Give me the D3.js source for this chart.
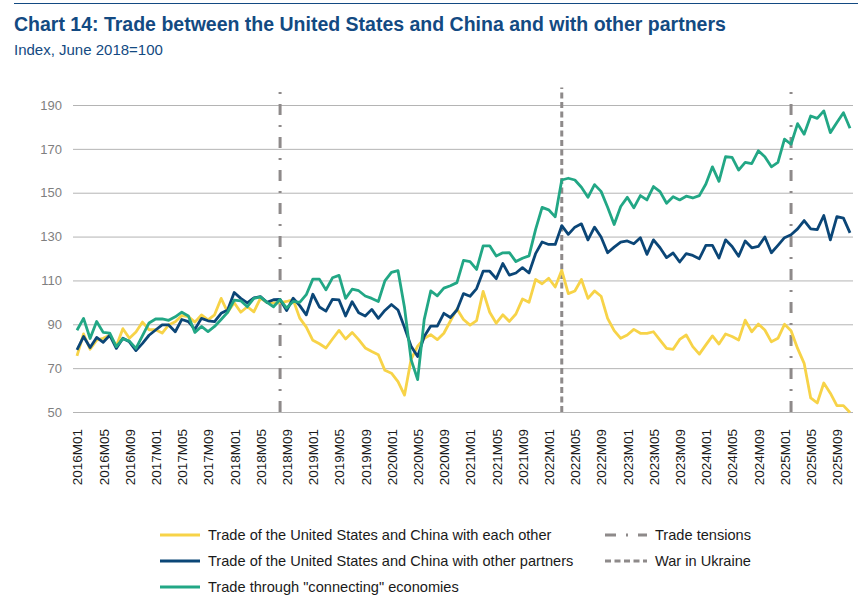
<!DOCTYPE html>
<html>
<head>
<meta charset="utf-8">
<script src="https://cdn.jsdelivr.net/npm/d3@7/dist/d3.min.js"></script>
<style>
  body { margin: 0; background: #fff; }
  svg { font-family: "Liberation Sans", Arial, sans-serif; }
</style>
</head>
<body>
<svg id="chart" width="858" height="612"></svg>
<script>
// monthly categories, 2016M01 .. 2025M11
var years = [2016, 2017, 2018, 2019, 2020, 2021, 2022, 2023, 2024, 2025];
var months = [];
years.forEach(function (yr) {
  for (var m = 1; m <= 12; m++) months.push(yr + "M" + (m < 10 ? "0" : "") + m);
});
months = months.slice(0, 119);

var xTickLabels = months.filter(function (d, i) { return i % 4 === 0; });
var yTickValues = [50, 70, 90, 110, 130, 150, 170, 190];

var usChinaEachOther = [
  75.6, 85.6, 78.6, 82.8, 83.6, 85, 80, 88, 83.6, 86.5, 91, 87.5,
  87.5, 86, 89.7, 91.2, 94, 93.5, 91, 94.3, 92, 94.3, 101.8, 95.5,
  99.8, 95.5, 98, 95.7, 101.8, 100, 99.8, 99.8, 100.4, 101.2, 92.8, 88.7,
  82.7, 81.1, 79.2, 83.3, 87.2, 83.3, 86.3, 83, 79.2, 77.6, 76.1, 69,
  67.7, 63.9, 57.7, 74, 80, 83.5, 85.3, 83, 85.9, 91.5, 97, 92.2,
  89.6, 91.7, 105, 95.5, 90.5, 94.3, 91.3, 94.7, 101.5, 100, 110.4, 108.5,
  111, 107, 114.6, 104, 105.2, 110.4, 101.8, 105.2, 102.8, 92.7, 87.1, 83.6,
  85.1, 87.7, 85.9, 85.9, 86.6, 82.8, 79, 78.6, 83.1, 85.1, 79.8, 76.4,
  80.6, 84.7, 81, 85.6, 84.4, 82.8, 91.9, 86.6, 90.1, 87.4, 82, 83.6,
  90, 87.1, 79, 72.2, 56.4, 54.1, 63.2, 58.6, 52.9, 52.9, 49.8
];

var usChinaOtherPartners = [
  78.3, 84.4, 79.4, 84, 81.8, 85, 79, 83.6, 82, 78, 81.3, 85,
  87.4, 89.7, 89.7, 86.6, 92.2, 91.2, 87.7, 92.7, 91.6, 91.2, 95, 96.5,
  104.5, 101.8, 99.8, 102, 102.6, 100, 101.2, 101.3, 96.3, 101.9, 98.5, 94.3,
  103.7, 97.9, 96, 101.4, 101.1, 93.8, 100.3, 95.3, 93.8, 96.8, 92.7, 96.3,
  99, 96.5, 88.5, 80, 75.3, 84.4, 89.2, 89.2, 95, 93.1, 96.5, 104,
  102.8, 106.3, 114.2, 114.2, 110.8, 117.7, 112.4, 113.4, 115.8, 113.4, 122.2, 127.5,
  126.4, 126.4, 135, 131, 134.3, 135.8, 128.5, 134.3, 129.8, 122.6, 125.2, 127.5,
  128, 126.7, 129.5, 121.9, 128.5, 124.9, 120.4, 122.5, 118.4, 122.2, 121.4, 119.9,
  126, 126, 120.2, 128.5, 125.5, 121, 128, 124.9, 125.5, 129.8, 122.6, 126,
  129.5, 130.8, 133.5, 137.3, 133.5, 133.2, 139.6, 128.5, 139.1, 138.4, 131.7
];

var connectingEconomies = [
  87.3, 92.7, 83.5, 91.3, 86.3, 86, 79.8, 83.4, 82.3, 79, 84.8, 90.6,
  92.4, 92.5, 91.8, 93.4, 95.5, 93.8, 86.3, 89, 86.7, 89, 92.2, 95.5,
  101, 100.7, 98, 101.8, 102.5, 100, 98, 101.3, 97.4, 100.4, 100, 103.5,
  110.6, 110.6, 105.7, 111.2, 112.3, 101.8, 106, 105.3, 102.9, 101.8, 100.4, 109.8,
  113.7, 114.5, 97.5, 73.9, 64.8, 92.1, 105.2, 103, 106.5, 107.6, 109, 119.1,
  118.6, 115, 125.8, 125.8, 121.1, 122.6, 122.7, 118.6, 120.1, 121.2, 133.2, 143.3,
  142.2, 139, 155.8, 156.6, 155.8, 152.5, 147.9, 153.7, 150.6, 143.4, 135.5, 143.7,
  147.9, 143.1, 148.7, 146.7, 152.8, 150.5, 145.2, 148.2, 146.7, 148.4, 147.6, 148.7,
  154, 161.8, 155.2, 166.4, 166.1, 160.3, 163.8, 163.3, 169.1, 166.4, 161.8, 163.8,
  174.4, 172.1, 181.5, 176.7, 185, 183.9, 187.3, 177.4, 182, 186.5, 179.4
];

var seriesNames = [
  "Trade of the United States and China with each other",
  "Trade of the United States and China with other partners",
  "Trade through \"connecting\" economies"
];
var seriesValues = [usChinaEachOther, usChinaOtherPartners, connectingEconomies];
var seriesColors = ["#f7d348", "#0b4677", "#22a785"];

var eventDates = ["2018M08", "2022M03", "2025M02"];
var eventKinds = ["tensions", "war", "tensions"];
var eventNames = { tensions: "Trade tensions", war: "War in Ukraine" };
var eventDash = { tensions: "11,10,2,10", war: "6,3.5" };

var svg = d3.select("#chart");
var navy = "#134a82";

var x = d3.scalePoint().domain(months).range([77, 850]);
var y = d3.scaleLinear().domain([50, 190]).range([412, 105]);

// top rule, title, subtitle
svg.append("line")
  .attr("x1", 14).attr("x2", 858).attr("y1", 3.5).attr("y2", 3.5)
  .attr("stroke", navy).attr("stroke-width", 1);

svg.append("text")
  .attr("x", 14).attr("y", 30.5)
  .attr("fill", navy)
  .attr("font-size", 19.5).attr("font-weight", "bold")
  .text("Chart 14: Trade between the United States and China and with other partners");

svg.append("text")
  .attr("x", 14).attr("y", 55)
  .attr("fill", navy)
  .attr("font-size", 15)
  .text("Index, June 2018=100");

// y axis with gridlines
var yAxis = svg.append("g")
  .attr("transform", "translate(73,0)")
  .call(d3.axisLeft(y).tickValues(yTickValues).tickSize(-780).tickPadding(11));
yAxis.select(".domain").remove();
yAxis.selectAll("line").attr("stroke", "#b4b4b4").attr("stroke-width", 1);
yAxis.selectAll("text")
  .attr("fill", "#7f7f7f")
  .attr("font-size", 13)
  .attr("font-family", "Liberation Sans, Arial, sans-serif");

// x axis, rotated labels
var xAxis = svg.append("g")
  .attr("transform", "translate(0,412)")
  .call(d3.axisBottom(x).tickValues(xTickLabels).tickSize(0));
xAxis.select(".domain").remove();
xAxis.selectAll("text")
  .attr("transform", "rotate(-90)")
  .attr("text-anchor", "end")
  .attr("x", -17).attr("y", 0).attr("dy", "0.36em")
  .attr("fill", "#1a1a1a")
  .attr("font-size", 13.5)
  .attr("font-family", "Liberation Sans, Arial, sans-serif");

// event markers
svg.selectAll(".event")
  .data(eventDates)
  .enter().append("line")
  .attr("class", "event")
  .attr("x1", function (d) { return x(d); })
  .attr("x2", function (d) { return x(d); })
  .attr("y1", y(50))
  .attr("y2", y(198))
  .attr("stroke", "#8e8a8a")
  .attr("stroke-width", 3)
  .attr("stroke-dasharray", function (d, i) { return eventDash[eventKinds[i]]; });

// series lines
var line = d3.line()
  .x(function (d, i) { return x(months[i]); })
  .y(function (d) { return y(d); });

svg.selectAll(".series")
  .data(seriesValues)
  .enter().append("path")
  .attr("class", "series")
  .attr("d", line)
  .attr("fill", "none")
  .attr("stroke", function (d, i) { return seriesColors[i]; })
  .attr("stroke-width", 2.8)
  .attr("stroke-linejoin", "round");

// legend
var legend = svg.append("g");
seriesNames.forEach(function (name, i) {
  var ly = 535 + i * 26;
  legend.append("line")
    .attr("x1", 160).attr("x2", 200).attr("y1", ly).attr("y2", ly)
    .attr("stroke", seriesColors[i]).attr("stroke-width", 3);
  legend.append("text")
    .attr("x", 208).attr("y", ly).attr("dy", "0.36em")
    .attr("font-size", 14.6).attr("fill", "#1a1a1a")
    .text(name);
});

["tensions", "war"].forEach(function (kind, i) {
  var ly = 535 + i * 26;
  legend.append("line")
    .attr("x1", 605).attr("x2", 647).attr("y1", ly).attr("y2", ly)
    .attr("stroke", "#8e8a8a").attr("stroke-width", 3)
    .attr("stroke-dasharray", eventDash[kind]);
  legend.append("text")
    .attr("x", 655).attr("y", ly).attr("dy", "0.36em")
    .attr("font-size", 14.6).attr("fill", "#1a1a1a")
    .text(eventNames[kind]);
});
</script>
</body>
</html>
